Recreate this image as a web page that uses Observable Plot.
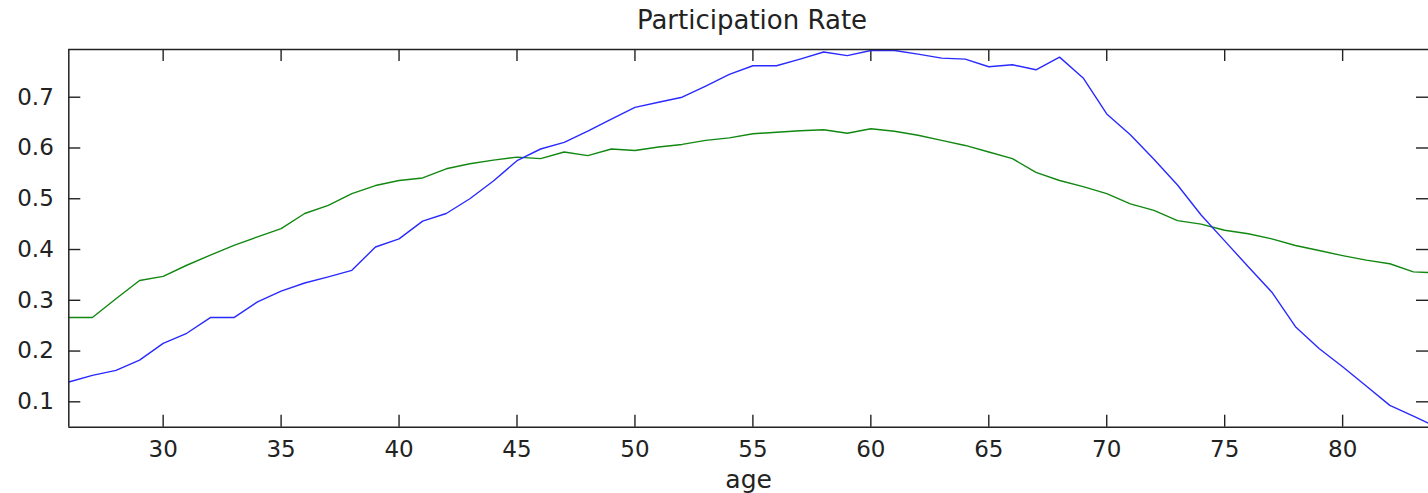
<!DOCTYPE html>
<html>
<head>
<meta charset="utf-8">
<script src="https://cdn.jsdelivr.net/npm/d3@7"></script>
<script src="https://cdn.jsdelivr.net/npm/@observablehq/plot@0.6"></script>
<style>
  html, body { margin: 0; padding: 0; background: #fff; overflow: hidden; }
  #title { height: 40px; line-height: 40px; text-align: center; font-family: "DejaVu Sans", sans-serif; font-size: 26px; color: #222; padding-left: 68px; box-sizing: border-box; width: 1436px; }
</style>
</head>
<body>
<div id="title">Participation Rate</div>
<div id="chart"></div>
<script>
const ages = d3.range(26, 85);
const seriesBlue = [0.139,0.152,0.162,0.182,0.215,0.235,0.266,0.266,0.297,0.318,0.334,0.346,0.359,0.405,0.421,0.456,0.471,0.500,0.535,0.575,0.598,0.611,0.633,0.657,0.680,0.690,0.700,0.722,0.745,0.762,0.762,0.775,0.789,0.782,0.792,0.792,0.785,0.777,0.775,0.760,0.764,0.754,0.779,0.738,0.667,0.626,0.578,0.527,0.468,0.417,0.366,0.316,0.248,0.205,0.169,0.131,0.093,0.072,0.050];
const seriesGreen = [0.266,0.266,0.303,0.339,0.347,0.369,0.389,0.408,0.425,0.441,0.471,0.487,0.510,0.526,0.536,0.541,0.559,0.569,0.576,0.582,0.579,0.592,0.585,0.598,0.595,0.602,0.607,0.615,0.620,0.628,0.631,0.634,0.636,0.629,0.638,0.633,0.625,0.615,0.605,0.592,0.579,0.552,0.536,0.524,0.510,0.490,0.477,0.457,0.450,0.438,0.431,0.421,0.408,0.398,0.388,0.379,0.372,0.356,0.354];
const xTicks = [30,35,40,45,50,55,60,65,70,75,80];
const yTicks = [0.1,0.2,0.3,0.4,0.5,0.6,0.7];
const xDomain = [26, 83.64];
const yDomain = [0.05, 0.794];

const blue = ages.map((a, i) => ({age: a, v: seriesBlue[i]}));
const green = ages.map((a, i) => ({age: a, v: seriesGreen[i]}));

const W = 1428, H = 453, mT = 9, mB = 66.3, mL = 68.3, mR = 0;
const fw = W - mL - mR, fh = H - mT - mB, tk = 12;
const axisColor = "#222";

const chart = Plot.plot({
  width: W, height: H,
  marginTop: mT, marginBottom: mB, marginLeft: mL, marginRight: mR,
  style: {fontFamily: "DejaVu Sans, sans-serif", fontSize: "23px", color: "#222", background: "#fff", overflow: "hidden"},
  x: {domain: xDomain},
  y: {domain: yDomain},
  marks: [
    Plot.axisX(xTicks, {tickSize: 0, tickPadding: 13, label: null, fontSize: 23}),
    Plot.axisY(yTicks, {tickSize: 0, tickPadding: 15, label: null, tickFormat: d3.format(".1f"), fontSize: 23}),
    Plot.tickX(xTicks, {x: d => d, insetTop: fh - tk, stroke: axisColor, strokeWidth: 1.4}),
    Plot.tickX(xTicks, {x: d => d, insetBottom: fh - tk, stroke: axisColor, strokeWidth: 1.4}),
    Plot.tickY(yTicks, {y: d => d, insetRight: fw - tk, stroke: axisColor, strokeWidth: 1.4}),
    Plot.tickY(yTicks, {y: d => d, insetLeft: fw - tk, stroke: axisColor, strokeWidth: 1.4}),
    Plot.line(green, {x: "age", y: "v", stroke: "#118811", strokeWidth: 1.4, clip: true}),
    Plot.line(blue, {x: "age", y: "v", stroke: "#2a2aff", strokeWidth: 1.4, clip: true}),
    Plot.ruleY([yDomain[0]], {stroke: axisColor, strokeWidth: 1.5}),
    Plot.ruleY([yDomain[1]], {stroke: axisColor, strokeWidth: 1.5}),
    Plot.ruleX([xDomain[0]], {stroke: axisColor, strokeWidth: 1.5}),
    Plot.text(["age"], {frameAnchor: "bottom", dy: 60.3, lineAnchor: "bottom", fontSize: 25, fill: "#222"})
  ]
});
document.getElementById("chart").appendChild(chart);
</script>
</body>
</html>
